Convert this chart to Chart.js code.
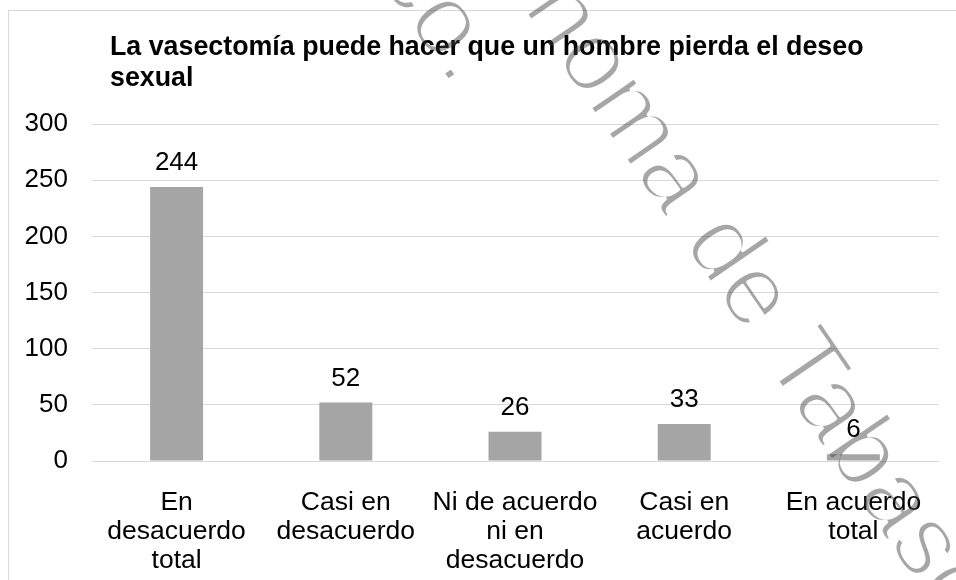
<!DOCTYPE html>
<html>
<head>
<meta charset="utf-8">
<script src="https://cdn.jsdelivr.net/npm/chart.js@4.4.1/dist/chart.umd.min.js"></script>
<style>
  html, body { margin: 0; padding: 0; background: #fff; }
  canvas { display: block; }
</style>
</head>
<body>
<canvas id="chart" width="956" height="580"></canvas>
<script>
// survey answers
const titleLines = ['La vasectomía puede hacer que un hombre pierda el deseo', 'sexual'];
const categories = [
    ['En', 'desacuerdo', 'total'],
    ['Casi en', 'desacuerdo'],
    ['Ni de acuerdo', 'ni en', 'desacuerdo'],
    ['Casi en', 'acuerdo'],
    ['En acuerdo', 'total']
];
const values = [244, 52, 26, 33, 6];
const yMin = 0;
const yMax = 300;
const yStep = 50;
const watermarkLines = ['Universidad Juárez Autónoma de Tabasco', 'México.'];

const FONT = '"Liberation Sans", Arial, sans-serif';
const GRID = '#d9d9d9';

// white background, outer frame and the two-line title
const framePlugin = {
    id: 'frame',
    beforeDraw(chart) {
        const ctx = chart.ctx;
        ctx.save();
        ctx.fillStyle = '#ffffff';
        ctx.fillRect(0, 0, chart.width, chart.height);
        ctx.strokeStyle = GRID;
        ctx.lineWidth = 1;
        ctx.strokeRect(8.5, 10.5, chart.width + 50, chart.height + 50);
        ctx.fillStyle = '#000000';
        ctx.font = 'bold 26.8px ' + FONT;
        ctx.textAlign = 'left';
        ctx.textBaseline = 'alphabetic';
        ctx.fillText(titleLines[0], 110, 55);
        ctx.fillText(titleLines[1], 110, 86);
        ctx.restore();
    }
};

// value above each bar
const valueLabels = {
    id: 'valueLabels',
    afterDatasetsDraw(chart) {
        const ctx = chart.ctx;
        ctx.save();
        ctx.fillStyle = '#000000';
        ctx.font = '26px ' + FONT;
        ctx.textAlign = 'center';
        ctx.textBaseline = 'alphabetic';
        chart.getDatasetMeta(0).data.forEach((bar, i) => {
            ctx.fillText(String(values[i]), bar.x, bar.y - 17);
        });
        ctx.restore();
    }
};

// thin rotated grey stamp over the whole chart
const watermark = {
    id: 'watermark',
    afterDraw(chart) {
        const off = document.createElement('canvas');
        off.width = chart.width;
        off.height = chart.height;
        const o = off.getContext('2d');
        o.font = '102px ' + FONT;
        o.textAlign = 'left';
        o.textBaseline = 'alphabetic';
        o.translate(762, 359);
        o.rotate(55.6 * Math.PI / 180);
        const x1 = -o.measureText('Universidad Juárez Autónoma de ').width;
        const x2 = -426 - o.measureText('México').width;
        o.fillStyle = '#3c3c3c';
        o.fillText(watermarkLines[0], x1, 0);
        o.fillText(watermarkLines[1], x2, 102);
        // shave the glyph edges so the strokes come out light
        o.globalCompositeOperation = 'destination-out';
        o.lineWidth = 4;
        o.lineJoin = 'round';
        o.strokeText(watermarkLines[0], x1, 0);
        o.strokeText(watermarkLines[1], x2, 102);

        const ctx = chart.ctx;
        ctx.save();
        ctx.globalAlpha = 0.45;
        ctx.drawImage(off, 0, 0);
        ctx.restore();
    }
};

const ctx = document.getElementById('chart').getContext('2d');
new Chart(ctx, {
    type: 'bar',
    data: {
        labels: categories,
        datasets: [{
            data: values,
            backgroundColor: '#a5a5a5',
            borderWidth: 0,
            barPercentage: 0.313,
            categoryPercentage: 1
        }]
    },
    options: {
        responsive: false,
        animation: false,
        devicePixelRatio: 1,
        layout: {
            padding: { left: 0, right: 18, top: 124, bottom: 0 }
        },
        plugins: {
            legend: { display: false },
            title: { display: false },
            tooltip: { enabled: false }
        },
        scales: {
            x: {
                grid: { display: false },
                border: { display: true, color: GRID },
                ticks: {
                    color: '#000000',
                    font: { family: FONT, size: 26.5, lineHeight: 1.1 },
                    padding: 19,
                    maxRotation: 0,
                    autoSkip: false
                },
                afterFit(scale) {
                    scale.height = 119;
                }
            },
            y: {
                min: yMin,
                max: yMax,
                grid: { color: GRID, drawTicks: false },
                border: { display: false },
                ticks: {
                    stepSize: yStep,
                    color: '#000000',
                    font: { family: FONT, size: 26 },
                    padding: 24
                },
                afterFit(scale) {
                    scale.width = 92;
                }
            }
        }
    },
    plugins: [framePlugin, valueLabels, watermark]
});
</script>
</body>
</html>
